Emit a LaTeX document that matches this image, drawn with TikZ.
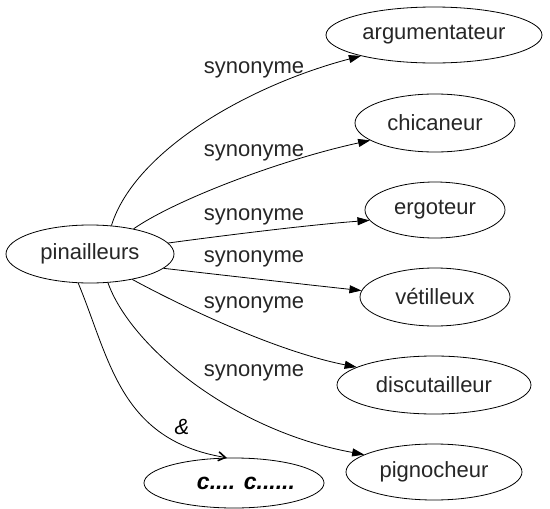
\documentclass[tikz,border=0pt]{standalone}
\usepackage{fontspec}
\setmainfont{Liberation Sans}
\usetikzlibrary{shapes.geometric,arrows.meta}
\begin{document}
\begin{tikzpicture}[x=1pt,y=-1pt,
  word/.style={ellipse, draw, line width=0.8pt, inner sep=0pt,
    font=\fontsize{22}{26}\selectfont, text=black!85},
  lab/.style={inner sep=0pt, font=\fontsize{22}{26}\selectfont, text=black!85},
  syn/.style={-{Triangle[length=12pt,width=8pt]}, line width=0.8pt},
  amp/.style={-{Straight Barb[length=7pt,width=9pt,line width=1.6pt]}, line width=0.8pt}]
\useasboundingbox[fill=white] (0,0) rectangle (550,509);
\node[word, minimum width=168pt, minimum height=58pt] (p) at (90,254) {pinailleurs};
\node[word, minimum width=216pt, minimum height=56pt] (a1) at (434,35) {argumentateur};
\node[word, minimum width=160pt, minimum height=58pt] (a2) at (435,123) {chicaneur};
\node[word, minimum width=140pt, minimum height=56pt] (a3) at (435,210) {ergoteur};
\node[word, minimum width=150pt, minimum height=58pt] (a4) at (435,297) {vétilleux};
\node[word, minimum width=194pt, minimum height=58pt] (a5) at (434,385) {discutailleur};
\node[word, minimum width=176pt, minimum height=56pt] (a6) at (434,472) {pignocheur};
\node[word, minimum width=180pt, minimum height=50pt, font=\fontsize{23}{27}\selectfont\bfseries\itshape, text=black] (c) at (234,483) {\hspace{24pt}c.... c......};
\draw[syn] (p.53) .. controls (135,150) and (250,85) .. (a1.196);
\draw[syn] (p.30) .. controls (175,200) and (280,160) .. (a2.195);
\draw[syn] (p.8) .. controls (250,232) and (320,224) .. (a3.189);
\draw[syn] (p.-11) .. controls (230,276) and (310,285) .. (a4.175);
\draw[syn] (p.-31) .. controls (170,300) and (270,350) .. (a5.167);
\draw[syn] (p.-58) .. controls (130,345) and (230,430) .. (a6.166);
\draw[amp] (p.-112) .. controls (110,360) and (120,440) .. (c.106);
\node[lab] (l1) at (254,70) {synonyme};
\node[lab] (l2) at (254,153) {synonyme};
\node[lab] (l3) at (254,217) {synonyme};
\node[lab] (l4) at (254,259) {synonyme};
\node[lab] (l5) at (254,305) {synonyme};
\node[lab] (l6) at (254,373) {synonyme};
\node[lab, text=black, font=\fontsize{22}{26}\selectfont\itshape] (l7) at (182,427) {\&};
\end{tikzpicture}
\end{document}
